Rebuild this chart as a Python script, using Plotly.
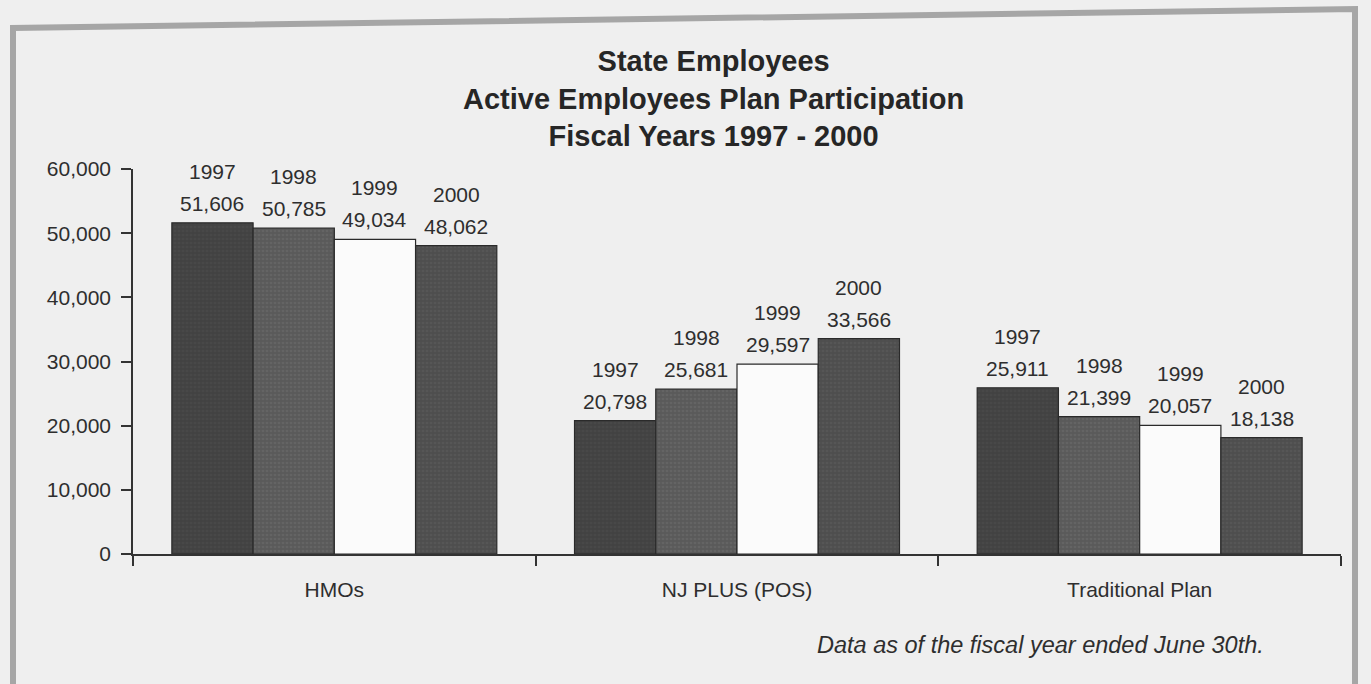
import plotly.graph_objects as go

# Plan categories and fiscal years
categories = ["HMOs", "NJ PLUS (POS)", "Traditional Plan"]
years = ["1997", "1998", "1999", "2000"]

# Active employee enrollment per plan, by fiscal year
hmo = [51606, 50785, 49034, 48062]
nj_plus = [20798, 25681, 29597, 33566]
traditional = [25911, 21399, 20057, 18138]

y_ticks = [0, 10000, 20000, 30000, 40000, 50000, 60000]

# Bar fills per year
fills = ["#424242", "#5a5a5a", "#fbfbfb", "#4e4e4e"]
speckle = ["#4e4e4e", "#6e6e6e", "#fbfbfb", "#5e5e5e"]

W, H = 1371, 684
L, R, T, B = 133, 30, 169, 130
BARGAP = 0.193
FONT = "Liberation Sans, Arial, Helvetica, sans-serif"
INK = "#2e2e2e"

plot_w = W - L - R
plot_h = H - T - B
cat_px = plot_w / len(categories)
bar_px = cat_px * (1 - BARGAP) / len(years)


def px_x(px):
    return (px - L) / plot_w


def px_y(py):
    return (H - B - py) / plot_h


fig = go.Figure()
annotations = []
for j, yr in enumerate(years):
    vals = [hmo[j], nj_plus[j], traditional[j]]
    fig.add_trace(go.Bar(
        name=yr,
        x=categories,
        y=vals,
        marker=dict(
            color=fills[j],
            line=dict(color="#2a2a2a", width=1.2),
            pattern=dict(shape="." if j != 2 else "", fgcolor=speckle[j],
                         size=4, solidity=0.35, fillmode="overlay"),
        ),
        hoverinfo="x+y+name",
    ))
    shift = (j - (len(years) - 1) / 2) * bar_px
    for c, v in zip(categories, vals):
        annotations.append(dict(
            x=c, y=v, xref="x", yref="y", xshift=shift, yshift=6,
            yanchor="bottom", showarrow=False, text=f"{v:,}",
            font=dict(family=FONT, size=21, color=INK),
        ))
        annotations.append(dict(
            x=c, y=v, xref="x", yref="y", xshift=shift, yshift=38,
            yanchor="bottom", showarrow=False, text=yr,
            font=dict(family=FONT, size=21, color=INK),
        ))

# Title block
annotations.append(dict(
    x=px_x(713), y=px_y(98), xref="paper", yref="paper",
    xanchor="center", yanchor="middle", showarrow=False,
    text="<b>State Employees<br>Active Employees Plan Participation<br>Fiscal Years 1997 - 2000</b>",
    font=dict(family=FONT, size=29, color="#262626"),
))

# Footnote
annotations.append(dict(
    x=px_x(1040), y=px_y(645), xref="paper", yref="paper",
    xanchor="center", yanchor="middle", showarrow=False,
    text="<i>Data as of the fiscal year ended June 30th.</i>",
    font=dict(family=FONT, size=23.5, color=INK),
))

# Page frame around the exhibit
frame = dict(
    type="path", xref="paper", yref="paper",
    path=(f"M {px_x(13)},{px_y(700)} L {px_x(13)},{px_y(28)} "
          f"L {px_x(1355)},{px_y(9)} L {px_x(1355)},{px_y(700)}"),
    line=dict(color="#a6a6a6", width=6),
    layer="below",
)

fig.update_layout(
    width=W, height=H,
    margin=dict(l=L, r=R, t=T, b=B, pad=0),
    paper_bgcolor="#efefef",
    plot_bgcolor="rgba(0,0,0,0)",
    barmode="group",
    bargap=BARGAP,
    bargroupgap=0,
    showlegend=False,
    annotations=annotations,
    shapes=[frame],
    font=dict(family=FONT, size=21, color=INK),
    xaxis=dict(
        showline=True, linecolor="#333333", linewidth=1.5,
        ticks="outside", ticklen=10, tickwidth=1.5, tickcolor="#333333",
        tickson="boundaries", ticklabelstandoff=16,
        tickfont=dict(family=FONT, size=21, color=INK),
        showgrid=False, zeroline=False,
    ),
    yaxis=dict(
        range=[0, 60000], tickvals=y_ticks, tickformat=",",
        showline=True, linecolor="#333333", linewidth=1.5,
        ticks="outside", ticklen=10, tickwidth=1.5, tickcolor="#333333",
        ticklabelstandoff=6,
        tickfont=dict(family=FONT, size=21, color=INK),
        showgrid=False, zeroline=False,
    ),
)

fig.write_html("out.html")
